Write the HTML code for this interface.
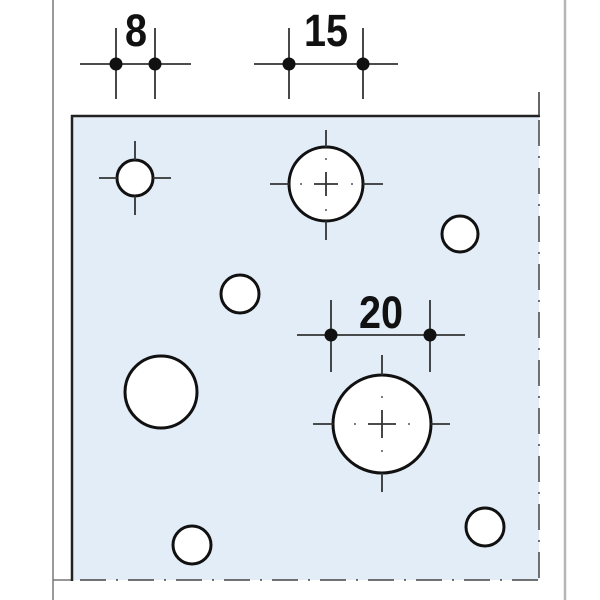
<!DOCTYPE html>
<html><head><meta charset="utf-8"><style>html,body{margin:0;padding:0;background:#fff}svg{display:block}</style></head>
<body>
<svg width="600" height="600" viewBox="0 0 600 600" xmlns="http://www.w3.org/2000/svg">
<rect x="0" y="0" width="600" height="600" fill="#fff"/>
<line x1="53" y1="0" x2="53" y2="600" stroke="#9a9a9a" stroke-width="2"/>
<line x1="565" y1="0" x2="565" y2="600" stroke="#b5b5b5" stroke-width="2.5"/>
<line x1="53" y1="580" x2="72" y2="580" stroke="#777" stroke-width="1.5"/>
<rect x="72" y="116" width="467" height="464" fill="#e3edf8"/>
<line x1="71" y1="116" x2="540" y2="116" stroke="#222" stroke-width="2.5"/>
<line x1="72" y1="115" x2="72" y2="581" stroke="#222" stroke-width="2.5"/>
<line x1="539" y1="92" x2="539" y2="116" stroke="#333" stroke-width="1.5"/>
<line x1="539" y1="120" x2="539" y2="580" stroke="#444" stroke-width="1.5" stroke-dasharray="26,10,2,10"/>
<line x1="80" y1="580" x2="539" y2="580" stroke="#444" stroke-width="1.5" stroke-dasharray="26,10,2,10"/>
<g stroke="#333" stroke-width="1.8">
<line x1="80" y1="64" x2="191" y2="64"/>
<line x1="116" y1="28" x2="116" y2="99"/>
<line x1="155" y1="28" x2="155" y2="99"/>
<line x1="254" y1="64" x2="398" y2="64"/>
<line x1="289" y1="28" x2="289" y2="99"/>
<line x1="363" y1="28" x2="363" y2="99"/>
<line x1="297" y1="335" x2="465" y2="335"/>
<line x1="331" y1="300" x2="331" y2="372"/>
<line x1="430" y1="300" x2="430" y2="372"/>
</g>
<g fill="#111">
<circle cx="116" cy="64" r="6.5"/><circle cx="155" cy="64" r="6.5"/>
<circle cx="289" cy="64" r="6.5"/><circle cx="363" cy="64" r="6.5"/>
<circle cx="331" cy="335" r="6.5"/><circle cx="430" cy="335" r="6.5"/>
</g>
<g font-family="Liberation Sans, sans-serif" font-weight="bold" font-size="45" fill="#111" text-anchor="middle">
<text x="136" y="46" transform="translate(136 0) scale(0.88 1) translate(-136 0)">8</text>
<text x="326" y="46" transform="translate(326 0) scale(0.88 1) translate(-326 0)">15</text>
<text x="381" y="328" transform="translate(381 0) scale(0.88 1) translate(-381 0)">20</text>
</g>
<g fill="#fff" stroke="#111" stroke-width="3">
<circle cx="135" cy="178" r="18"/>
<circle cx="326" cy="184" r="37"/>
<circle cx="460" cy="234" r="18"/>
<circle cx="240" cy="294" r="19"/>
<circle cx="161" cy="392" r="36"/>
<circle cx="382" cy="424" r="49"/>
<circle cx="192" cy="545" r="19"/>
<circle cx="485" cy="527" r="19"/>
</g>
<g stroke="#333" stroke-width="1.8">
<line x1="99" y1="178" x2="117" y2="178"/><line x1="153" y1="178" x2="171" y2="178"/>
<line x1="135" y1="141" x2="135" y2="160"/><line x1="135" y1="196" x2="135" y2="215"/>
<line x1="270" y1="184" x2="289" y2="184"/><line x1="363" y1="184" x2="383" y2="184"/>
<line x1="326" y1="130" x2="326" y2="147"/><line x1="326" y1="221" x2="326" y2="240"/>
<line x1="314" y1="184" x2="338" y2="184"/><line x1="326" y1="172" x2="326" y2="196"/>
<line x1="313" y1="424" x2="333" y2="424"/><line x1="431" y1="424" x2="450" y2="424"/>
<line x1="382" y1="355" x2="382" y2="375"/><line x1="382" y1="473" x2="382" y2="492"/>
<line x1="368" y1="424" x2="396" y2="424"/><line x1="382" y1="410" x2="382" y2="438"/>
</g>
<g fill="#555">
<circle cx="326" cy="159" r="1"/><circle cx="326" cy="210" r="1"/><circle cx="301" cy="184" r="1"/><circle cx="352" cy="184" r="1"/>
<circle cx="382" cy="397" r="1"/><circle cx="382" cy="451" r="1"/><circle cx="355" cy="424" r="1"/><circle cx="409" cy="424" r="1"/>
</g>
</svg>
</body></html>
